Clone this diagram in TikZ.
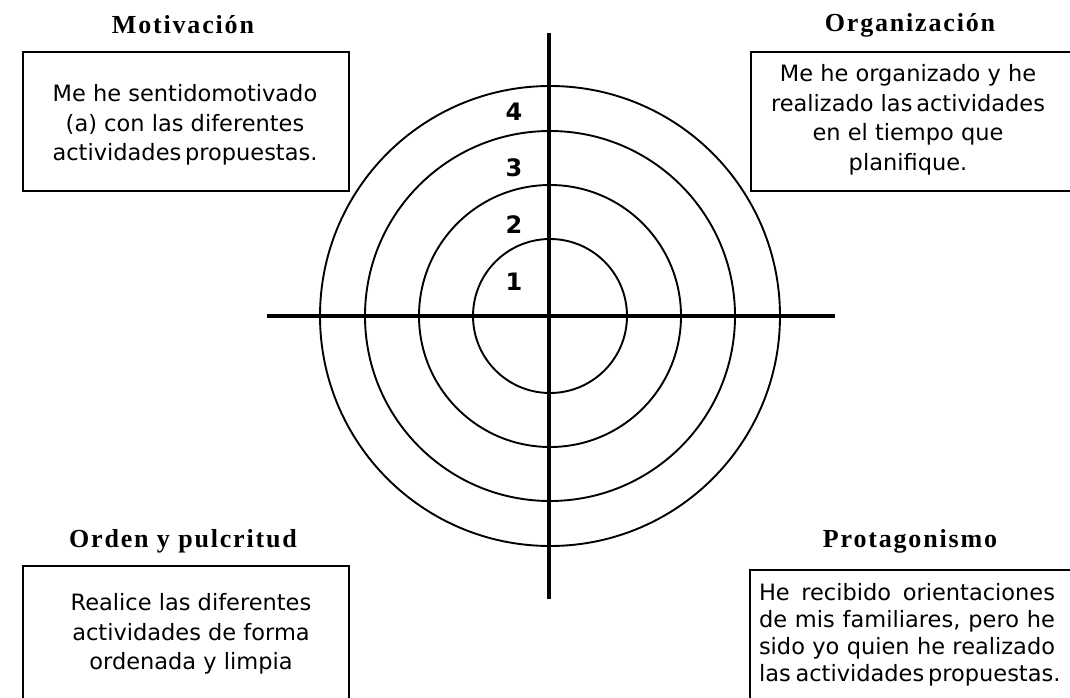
\documentclass[tikz,border=0pt]{standalone}
\usepackage{fontspec}
\setmainfont{DejaVu Sans}
\newfontfamily\titlefont[LetterSpace=7]{Liberation Serif}
\newfontfamily\numfont{DejaVu Sans}

\begin{document}
\begin{tikzpicture}[x=1pt,y=-1pt,
  ring/.style={line width=1.9pt},
  axis/.style={line width=3.8pt},
  frame/.style={line width=1.9pt},
  title/.style={font=\titlefont\bfseries\fontsize{26}{30}\selectfont},
  body/.style={align=center,font=\fontsize{22.5}{29.5}\selectfont},
  level/.style={font=\numfont\bfseries\fontsize{24}{26}\selectfont}]

\useasboundingbox (0,0) rectangle (1070,698);

\begin{scope}
\clip (0,0) rectangle (1070,698);

\coordinate (c) at (550,316);
\coordinate (t) at (549,33);
\coordinate (b) at (549,599);
\coordinate (l) at (267,316);
\coordinate (r) at (835,316);

\draw[ring] (c) circle (77pt);
\draw[ring] (c) circle (131pt);
\draw[ring] (c) circle (185pt);
\draw[ring] (c) circle (230pt);

\draw[axis] (t) -- (b);
\draw[axis] (l) -- (r);

\node[level] (n1) at (514,282) {1};
\node[level] (n2) at (514,225) {2};
\node[level] (n3) at (514,168) {3};
\node[level] (n4) at (514,112) {4};

% boxes
\draw[frame] (23,52) rectangle (349,191);
\draw[frame] (751,52) rectangle (1080,191);
\draw[frame] (23,566) rectangle (349,710);
\draw[frame] (750,570) rectangle (1080,710);

\node[title] (mot) at (183,25) {Motivación};
\node[title] (org) at (910,25) {Organización};
\node[title] (ord) at (183,541) {Orden y pulcritud};
\node[title] (pro) at (910,541) {Protagonismo};

\node[body] (tmot) at (185,125) {Me he sentidomotivado\\(a) con las diferentes\\actividades\,propuestas.};
\node[body] (torg) at (908,120) {Me he organizado y he\\realizado las\,actividades\\en el tiempo que\\planifique.};
\node[body] (tord) at (191,634) {Realice las diferentes\\actividades de forma\\ordenada y limpia};
\node[body,font=\fontsize{22.5}{27}\selectfont] (tpro) at (907,635)
  {\makebox[296pt][s]{He recibido orientaciones}\\
   \makebox[296pt][s]{de mis familiares, pero he}\\
   \makebox[296pt][s]{sido yo quien he realizado}\\
   \makebox[296pt][s]{las actividades\,propuestas.}};

\end{scope}

\end{tikzpicture}
\end{document}
